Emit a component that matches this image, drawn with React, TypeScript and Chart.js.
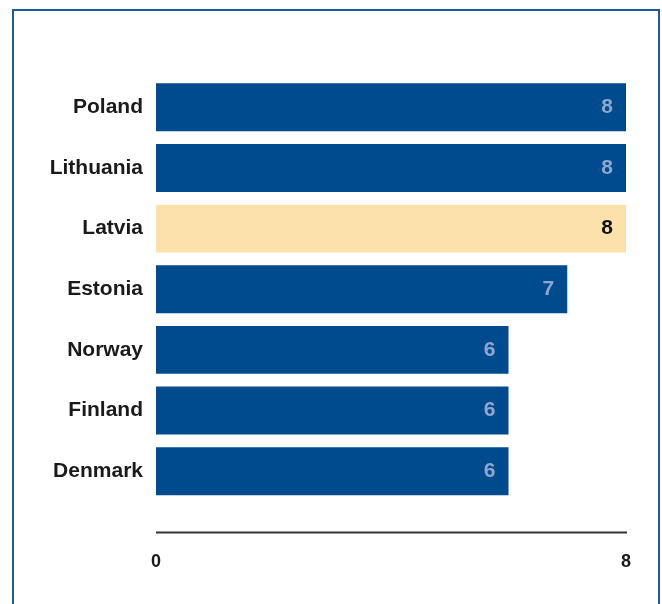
import React, { useEffect, useRef } from "react";
import { Chart, registerables } from "chart.js";

Chart.register(...registerables);

const categories = ["Poland", "Lithuania", "Latvia", "Estonia", "Norway", "Finland", "Denmark"];
const values = [8, 8, 8, 7, 6, 6, 6];
const highlight = "Latvia";
const xTicks = [0, 8];

const BLUE = "#004b8d";
const HIGHLIGHT = "#fde1ab";
const FONT = "'Liberation Sans', Arial, sans-serif";

const valueLabels = {
  id: "valueLabels",
  afterDatasetsDraw(chart: any) {
    const ctx = chart.ctx;
    const meta = chart.getDatasetMeta(0);
    ctx.save();
    ctx.font = `bold 21px ${FONT}`;
    ctx.textAlign = "right";
    ctx.textBaseline = "middle";
    meta.data.forEach((bar: any, i: number) => {
      ctx.fillStyle = categories[i] === highlight ? "#111111" : "#8fa7d0";
      ctx.fillText(String(values[i]), bar.x - 13, bar.y);
    });
    ctx.restore();
  },
};

const axisLine = {
  id: "axisLine",
  afterDraw(chart: any) {
    const ctx = chart.ctx;
    const xs = chart.scales.x;
    const y = chart.chartArea.bottom + 31;
    ctx.save();
    ctx.strokeStyle = "#333333";
    ctx.lineWidth = 2;
    ctx.beginPath();
    ctx.moveTo(xs.getPixelForValue(xTicks[0]), y);
    ctx.lineTo(xs.getPixelForValue(xTicks[xTicks.length - 1]) + 1, y);
    ctx.stroke();
    ctx.restore();
  },
};

export default function App() {
  const ref = useRef<HTMLCanvasElement | null>(null);
  useEffect(() => {
    if (!ref.current) return;
    const chart = new Chart(ref.current, {
      type: "bar",
      data: {
        labels: categories,
        datasets: [
          {
            data: values,
            backgroundColor: categories.map((c) => (c === highlight ? HIGHLIGHT : BLUE)),
            borderWidth: 0,
            barPercentage: 0.79,
            categoryPercentage: 1,
          },
        ],
      },
      options: {
        indexAxis: "y",
        animation: false,
        responsive: false,
        maintainAspectRatio: false,
        layout: { padding: { top: 77, left: 10, right: 36, bottom: 0 } },
        plugins: { legend: { display: false }, tooltip: { enabled: false } },
        scales: {
          x: {
            min: 0,
            max: 8,
            afterBuildTicks(scale: any) {
              scale.ticks = xTicks.map((v) => ({ value: v }));
            },
            afterFit(scale: any) {
              scale.height = 102.5;
              scale.paddingLeft = 0;
              scale.paddingRight = 0;
            },
            grid: { display: false, drawTicks: false },
            border: { display: false },
            ticks: {
              padding: 50,
              color: "#1a1a1a",
              font: { family: FONT, size: 18, weight: "bold" },
            },
          },
          y: {
            afterFit(scale: any) {
              scale.width = 146;
              scale.paddingTop = 0;
              scale.paddingBottom = 0;
            },
            grid: { display: false, drawTicks: false },
            border: { display: false },
            ticks: {
              padding: 13,
              color: "#1a1a1a",
              font: { family: FONT, size: 21, weight: "bold" },
            },
          },
        },
      },
      plugins: [valueLabels, axisLine],
    });
    return () => chart.destroy();
  }, []);

  return (
    <div style={{ position: "fixed", left: 0, top: 0, width: 662, height: 604, background: "#ffffff", overflow: "hidden" }}>
      <div
        style={{
          position: "absolute",
          left: 12,
          top: 9,
          width: 644,
          height: 620,
          border: "2px solid #22599c",
        }}
      />
      <canvas ref={ref} width={662} height={604} style={{ position: "absolute", left: 0, top: 0, width: 662, height: 604 }} />
    </div>
  );
}
